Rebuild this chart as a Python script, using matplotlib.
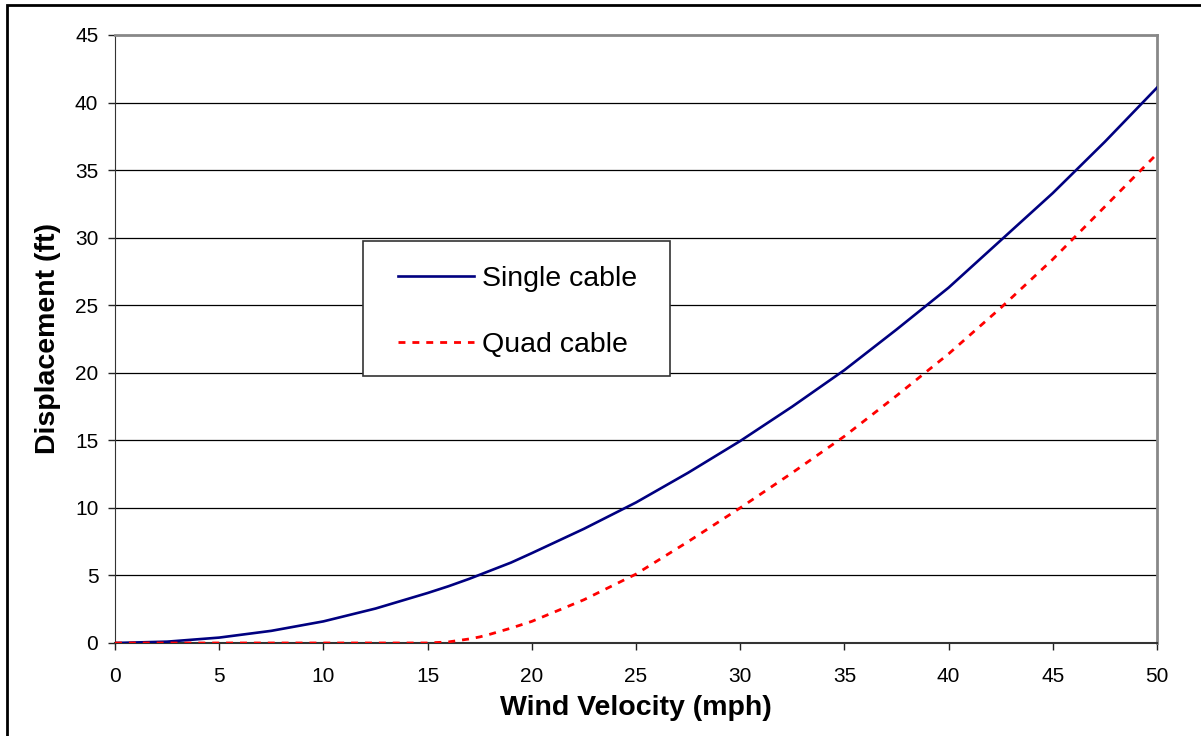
import matplotlib.pyplot as plt
from matplotlib.patches import Rectangle
from matplotlib.lines import Line2D

plt.rcParams['font.family'] = ['Liberation Sans', 'DejaVu Sans']

# dados
velocidade = [0, 2.5, 5, 7.5, 10, 12.5, 15, 16, 17, 17.5, 18, 19, 20, 22.5, 25,
              27.5, 30, 32.5, 35, 37.5, 40, 42.5, 45, 47.5, 50]
cabo_simples = [0, 0.1, 0.4, 0.9, 1.6, 2.55, 3.7, 4.2, 4.75, 5.05, 5.35, 5.95, 6.65, 8.45, 10.4,
                12.6, 14.95, 17.5, 20.2, 23.2, 26.3, 29.8, 33.3, 37.1, 41.1]
cabo_quad = [0, 0, 0, 0, 0, 0, 0, 0.08, 0.3, 0.45, 0.65, 1.1, 1.6, 3.2, 5.1,
             7.5, 10.0, 12.6, 15.3, 18.3, 21.4, 24.8, 28.4, 32.3, 36.2]
rotulos = ['Single cable', 'Quad cable']

fig = plt.figure(figsize=(12.01, 7.36), dpi=100)
ax = fig.add_axes([115/1201, 1 - 643/736, 1042/1201, 608/736])

# moldura externa (só esquerda e topo aparecem)
fig.patches.append(Rectangle((7/1201, -0.5), 2, 1.5 - 5/736, transform=fig.transFigure,
                             fill=False, edgecolor='black', linewidth=2))

ax.plot(velocidade, cabo_simples, color='#000080', linewidth=1.9, zorder=3)
ax.plot(velocidade, cabo_quad, color='#ff0000', linewidth=2, linestyle=(0, (2.5, 2.5)), zorder=4)

ax.set_xlim(0, 50)
ax.set_ylim(0, 45)
ax.set_xticks(range(0, 51, 5))
ax.set_yticks(range(0, 46, 5))
ax.tick_params(direction='out', length=5, width=1, labelsize=15, color='#222222')
ax.tick_params(axis='x', pad=12)
ax.tick_params(axis='y', pad=7)
for y in range(5, 45, 5):
    ax.axhline(y, color='black', linewidth=0.9, zorder=1)

ax.spines['left'].set_color('#333333')
ax.spines['bottom'].set_color('#333333')
ax.spines['bottom'].set_linewidth(1.5)
ax.spines['top'].set_color('#888888')
ax.spines['right'].set_color('#888888')
ax.spines['top'].set_linewidth(2)
ax.spines['right'].set_linewidth(2)

ax.set_xlabel('Wind Velocity (mph)', fontsize=20.5, fontweight='bold', labelpad=7)
ax.set_ylabel('Displacement (ft)', fontsize=20.5, fontweight='bold', labelpad=10)

# legenda no estilo do Excel
ax.add_patch(Rectangle((0.238, 0.439), 0.2946, 0.222, transform=ax.transAxes,
                       facecolor='white', edgecolor='#333333', linewidth=1.2, zorder=5))
ax.add_line(Line2D([0.2716, 0.3445], [0.6036, 0.6036], transform=ax.transAxes,
                   color='#000080', linewidth=1.9, zorder=6))
ax.add_line(Line2D([0.2716, 0.3445], [0.495, 0.495], transform=ax.transAxes,
                   color='#ff0000', linewidth=2, linestyle=(0, (2.5, 2.5)), zorder=6))
ax.text(0.3522, 0.599, rotulos[0], transform=ax.transAxes, fontsize=20.5, va='center', zorder=6)
ax.text(0.3522, 0.490, rotulos[1], transform=ax.transAxes, fontsize=20.5, va='center', zorder=6)

plt.savefig('out.png', dpi=100)
